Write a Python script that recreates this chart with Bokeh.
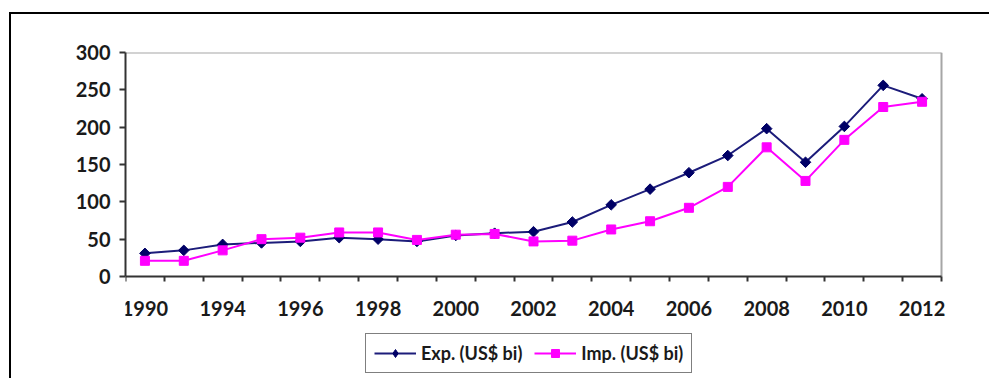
import math
from bokeh.plotting import figure
from bokeh.models import (FixedTicker, Legend, LegendItem, Range1d, ColumnDataSource,
                          LinearAxis)
from bokeh.embed import file_html
from bokeh.resources import INLINE

# Data
years = ["1990", "1992", "1994", "1995", "1996", "1997", "1998", "1999", "2000",
         "2001", "2002", "2003", "2004", "2005", "2006", "2007", "2008", "2009",
         "2010", "2011", "2012"]
exports = [31, 35, 43, 45, 47, 52, 50, 47, 55, 58, 60, 73, 96, 117, 139, 162,
           198, 153, 201, 256, 238]
imports = [21, 21, 35, 50, 52, 59, 59, 49, 56, 57, 47, 48, 63, 74, 92, 120,
           173, 128, 183, 227, 234]
y_ticks = [0, 50, 100, 150, 200, 250, 300]
exp_label = "Exp. (US$ bi)"
imp_label = "Imp. (US$ bi)"

n = len(years)
idx = list(range(n))
src = ColumnDataSource(dict(x=idx, exp=exports, imp=imports,
                            ang=[math.pi / 4] * n))

FONT = "Lato"
W, H = 980, 366
LEFT, RIGHT, TOP, BOTTOM = 114, 30, 38, 4
frame_h = H - TOP - BOTTOM
frame_w = W - LEFT - RIGHT
plot_h = 224.0                     # pixel height of the 0..300 value band
plot_w = 816.0                     # pixel width of the category band
y_max = y_ticks[-1]
y_min = -(frame_h - plot_h) / plot_h * y_max
x_lo, x_hi = -0.5, n - 0.5
x_end = x_lo + frame_w / plot_w * n

p = figure(width=W, height=H, output_backend="svg", toolbar_location=None,
           x_range=Range1d(x_lo, x_end), y_range=Range1d(y_min, y_max),
           min_border_left=LEFT, min_border_right=RIGHT, min_border_top=TOP,
           min_border_bottom=BOTTOM, x_axis_location=None, y_axis_location=None)
p.styles = {"border-left": "2px solid black", "border-top": "2px solid black",
            "margin-left": "9px", "margin-top": "12px"}

p.xgrid.visible = False
p.ygrid.visible = False
p.outline_line_color = None
p.background_fill_color = "white"
p.border_fill_color = "white"

AX = "#333333"
GRAY = "#a6a6a6"

# plot-area border (top and right, gray)
p.segment(x0=[x_lo, x_hi], y0=[y_max, 0], x1=[x_hi, x_hi], y1=[y_max, y_max],
          line_color=GRAY, line_width=2)

# X axis at value 0: labels at every other category, ticks between categories
xa = LinearAxis(fixed_location=0, bounds=(x_lo, x_hi))
xa.ticker = FixedTicker(ticks=idx[::2], minor_ticks=[i - 0.5 for i in range(n + 1)])
xa.major_label_overrides = {i: years[i] for i in idx[::2]}
xa.major_tick_out = 0
xa.major_tick_in = 0
xa.minor_tick_out = 5
xa.minor_tick_in = 0
xa.minor_tick_line_color = AX
xa.minor_tick_line_width = 2
xa.axis_line_color = AX
xa.axis_line_width = 2
xa.major_label_text_font = FONT
xa.major_label_text_font_style = "bold"
xa.major_label_text_font_size = "20px"
xa.major_label_text_color = "#1a1a1a"
xa.major_label_standoff = 19
p.add_layout(xa, "below")

ya = LinearAxis(bounds=(0, y_max))
ya.ticker = FixedTicker(ticks=y_ticks)
ya.major_tick_out = 6
ya.major_tick_in = 0
ya.minor_tick_line_color = None
ya.major_tick_line_color = AX
ya.major_tick_line_width = 2
ya.axis_line_color = AX
ya.axis_line_width = 2
ya.major_label_text_font = FONT
ya.major_label_text_font_style = "bold"
ya.major_label_text_font_size = "20px"
ya.major_label_text_color = "#1a1a1a"
ya.major_label_standoff = 9
p.add_layout(ya, "left")

EXP_C = "#1c1c7a"
EXP_M = "#000066"
IMP_C = "#ff00ff"

l1 = p.line("x", "exp", source=src, line_color=EXP_C, line_width=2)
s1 = p.scatter("x", "exp", source=src, marker="square", angle="ang", size=7.5,
               fill_color=EXP_M, line_color=EXP_M)
# legend key marker for exports (diamond; draws nothing in the plot itself)
s1_key = p.scatter("x", "exp", source=src, marker="diamond", size=0,
                   fill_color=EXP_M, line_color=EXP_M)
l2 = p.line("x", "imp", source=src, line_color=IMP_C, line_width=2)
s2 = p.scatter("x", "imp", source=src, marker="square", size=9,
               fill_color=IMP_C, line_color=IMP_C)

legend = Legend(items=[LegendItem(label=exp_label, renderers=[l1, s1_key], index=0),
                       LegendItem(label=imp_label, renderers=[l2, s2], index=0)],
                orientation="horizontal", location=(240, 3))
legend.label_text_font = FONT
legend.label_text_font_style = "bold"
legend.label_text_font_size = "18px"
legend.label_text_color = "#1a1a1a"
legend.glyph_width = 42
legend.glyph_height = 20
legend.label_standoff = 5
legend.spacing = 12
legend.padding = 8
legend.margin = 0
legend.border_line_color = "black"
legend.border_line_width = 1.5
legend.background_fill_color = "white"
legend.background_fill_alpha = 1
p.add_layout(legend, "center")

open("out.html", "w").write(file_html(p, INLINE))
